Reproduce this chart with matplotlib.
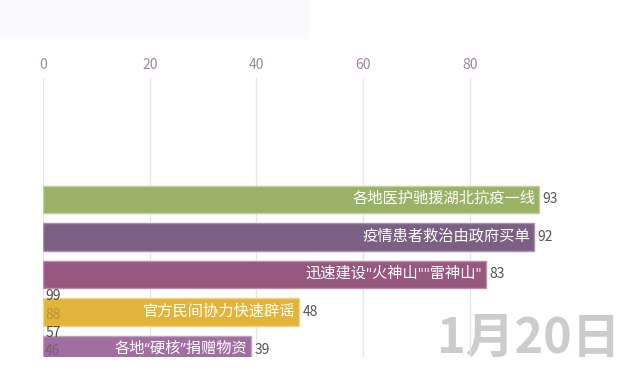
import matplotlib
matplotlib.use('Agg')
import matplotlib.pyplot as plt

plt.rcParams['font.family'] = ['Noto Sans CJK SC', 'DejaVu Sans']

labels = ['各地医护驰援湖北抗疫一线', '疫情患者救治由政府买单', '迅速建设"火神山""雷神山"',
          '官方民间协力快速辟谣', '各地“硬核”捐赠物资']
values = [93, 92, 83, 48, 39]
colors = ['#9bb266', '#7b6083', '#96587e', '#e2b43a', '#a06ea0']
edges = ['#c3d19e', '#a894ad', '#bb8cab', '#efd38a', '#c3a0c3']
ticks = [0, 20, 40, 60, 80]
date_label = '1月20日'
# numbers left over from the running animation
ghost_nums = ['99', '88', '57', '46']
ghost_pos = [2.58, 3.08, 3.55, 4.05]
ghost_alpha = [0.85, 0.25, 0.85, 0.3]

fig = plt.figure(figsize=(6.39, 3.73), dpi=100)
fig.patches.append(plt.Rectangle((0, 0.898), 0.482, 0.102, transform=fig.transFigure,
                                 color='#fafafc', zorder=0))
ax = fig.add_axes([43 / 639, 16 / 373, 587 / 639, 279 / 373])

pos = list(range(len(labels)))
ax.barh(pos, values, height=0.73, color=colors, edgecolor=edges, linewidth=1, zorder=2)
for p, lab, v in zip(pos, labels, values):
    ax.text(v - 0.7, p, lab, ha='right', va='center', color='white', fontsize=11, zorder=3,
            family=['Open Sans', 'Noto Sans CJK SC'])
    ax.text(v + 0.6, p, str(v), ha='left', va='center', color='#555555', fontsize=10, zorder=3)

for n, y, a in zip(ghost_nums, ghost_pos, ghost_alpha):
    ax.text(0.4, y, n, ha='left', va='center', color='#333333', alpha=a, fontsize=10, zorder=3)

ax.set_xlim(0, 110)
ax.set_ylim(4.2, -3.24)
ax.set_xticks(ticks)
ax.xaxis.tick_top()
ax.tick_params(axis='x', length=0, pad=4, labelsize=10, labelcolor='#9a8a9a')
ax.set_yticks([])
ax.grid(axis='x', color='#e6e6e6', linewidth=1, zorder=0)
for s in ax.spines.values():
    s.set_visible(False)

ax.text(0.983, -0.02, date_label, transform=ax.transAxes, ha='right', va='bottom',
        fontsize=35, fontweight='bold', color='#cccccc', zorder=1, clip_on=False)

plt.savefig('out.png', facecolor='white')
